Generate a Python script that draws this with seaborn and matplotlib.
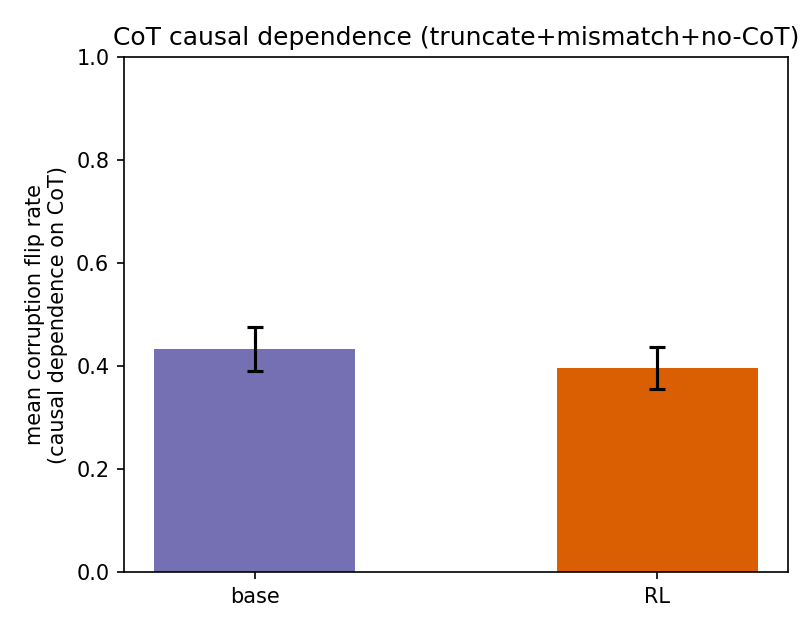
"""CoT causal dependence: base vs RL, bar chart with error bars."""
import matplotlib
matplotlib.use('Agg')
import matplotlib.pyplot as plt
import seaborn as sns

models = ['base', 'RL']
flip_rate = [0.433, 0.396]  # mean corruption flip rate
flip_err = [0.042, 0.041]   # half-width of the error bar
colors = ['#7570b3', '#d95f02']

fig, ax = plt.subplots(figsize=(5.4, 4.2), dpi=150)
fig.subplots_adjust(left=0.153, right=0.9728, top=0.9095, bottom=0.092)

sns.barplot(x=models, y=flip_rate, hue=models, palette=colors,
            width=0.5, legend=False, saturation=1, ax=ax)
ax.errorbar(range(len(models)), flip_rate, yerr=flip_err, fmt='none',
            ecolor='black', elinewidth=1.5, capsize=4, capthick=1.5)

ax.set_xlim(-0.325, len(models) - 1 + 0.325)
ax.set_ylim(0, 1)
ax.set_ylabel('mean corruption flip rate\n(causal dependence on CoT)')
ax.set_title('CoT causal dependence (truncate+mismatch+no-CoT)', fontsize=12)

fig.savefig('out.png', dpi=150)
